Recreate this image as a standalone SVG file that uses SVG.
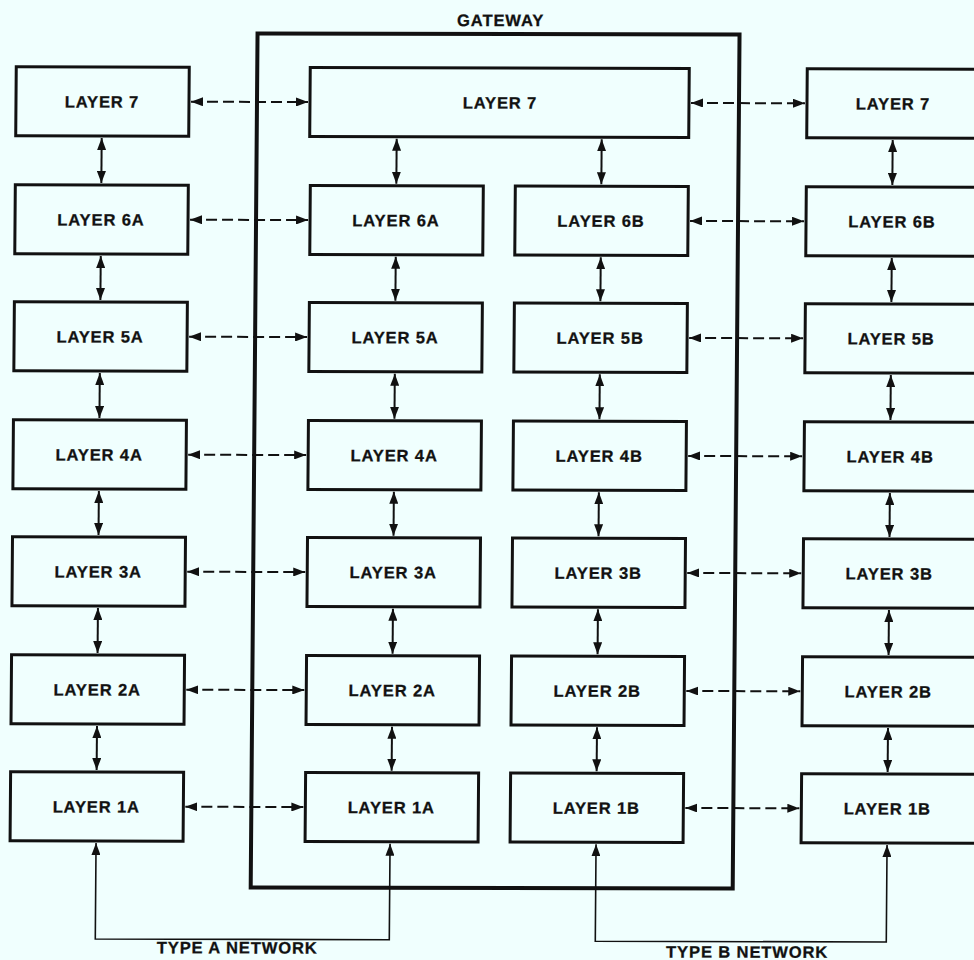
<svg xmlns="http://www.w3.org/2000/svg" width="974" height="960" viewBox="0 0 974 960">
  <style>
    .box { fill: none; stroke: #111; stroke-width: 3; }
    .frame { fill: none; stroke: #111; stroke-width: 4; }
    .lbl { font-family: "Liberation Sans", Arial, sans-serif; font-weight: bold; font-size: 16.5px; letter-spacing: 0.9px; fill: #111; stroke: #111; stroke-width: 0.3; text-anchor: middle; }
    .peer { fill: none; stroke: #111; stroke-width: 2; stroke-dasharray: 11 5; marker-start: url(#ah); marker-end: url(#ah); }
    .stack { fill: none; stroke: #111; stroke-width: 2; marker-start: url(#ah); marker-end: url(#ah); }
    .net { fill: none; stroke: #111; stroke-width: 1.6; marker-start: url(#ah); marker-end: url(#ah); }
  </style>
  <defs>
    <marker id="ah" viewBox="0 0 12 9" refX="12" refY="4.5" markerWidth="12" markerHeight="9" markerUnits="userSpaceOnUse" orient="auto-start-reverse">
      <path d="M0,0 L12,4.5 L0,9 Z" fill="#111"/>
    </marker>
  </defs>
  <rect width="974" height="960" fill="#f0fffe"/>
  <g transform="matrix(1,0.0025,-0.008,1,0.8,-0.25)">
    <!-- gateway enclosure -->
    <g id="gateway">
      <rect class="frame" x="257" y="33" width="482" height="854"/>
      <text class="lbl" x="500" y="25">GATEWAY</text>
    </g>

    <!-- end system A stack -->
    <g id="a7"><rect class="box" x="16" y="67" width="173" height="69"/><text class="lbl" x="102" y="107.5">LAYER 7</text></g>
    <g id="a6"><rect class="box" x="16" y="185" width="173" height="69"/><text class="lbl" x="102" y="225.5">LAYER 6A</text></g>
    <g id="a5"><rect class="box" x="16" y="302" width="173" height="69"/><text class="lbl" x="102" y="342.5">LAYER 5A</text></g>
    <g id="a4"><rect class="box" x="16" y="420" width="173" height="69"/><text class="lbl" x="102" y="460.5">LAYER 4A</text></g>
    <g id="a3"><rect class="box" x="16" y="537" width="173" height="69"/><text class="lbl" x="102" y="577.5">LAYER 3A</text></g>
    <g id="a2"><rect class="box" x="16" y="655" width="173" height="69"/><text class="lbl" x="102" y="695.5">LAYER 2A</text></g>
    <g id="a1"><rect class="box" x="16" y="772" width="173" height="69"/><text class="lbl" x="102" y="812.5">LAYER 1A</text></g>

    <!-- gateway stacks -->
    <g id="g7"><rect class="box" x="310" y="67" width="379" height="69"/><text class="lbl" x="500" y="107.5">LAYER 7</text></g>
    <g id="ga6"><rect class="box" x="311" y="185" width="173" height="69"/><text class="lbl" x="397" y="225.5">LAYER 6A</text></g>
    <g id="ga5"><rect class="box" x="311" y="302" width="173" height="69"/><text class="lbl" x="397" y="342.5">LAYER 5A</text></g>
    <g id="ga4"><rect class="box" x="311" y="420" width="173" height="69"/><text class="lbl" x="397" y="460.5">LAYER 4A</text></g>
    <g id="ga3"><rect class="box" x="311" y="537" width="173" height="69"/><text class="lbl" x="397" y="577.5">LAYER 3A</text></g>
    <g id="ga2"><rect class="box" x="311" y="655" width="173" height="69"/><text class="lbl" x="397" y="695.5">LAYER 2A</text></g>
    <g id="ga1"><rect class="box" x="311" y="772" width="173" height="69"/><text class="lbl" x="397" y="812.5">LAYER 1A</text></g>
    <g id="gb6"><rect class="box" x="516" y="185" width="173" height="69"/><text class="lbl" x="602" y="225.5">LAYER 6B</text></g>
    <g id="gb5"><rect class="box" x="516" y="302" width="173" height="69"/><text class="lbl" x="602" y="342.5">LAYER 5B</text></g>
    <g id="gb4"><rect class="box" x="516" y="420" width="173" height="69"/><text class="lbl" x="602" y="460.5">LAYER 4B</text></g>
    <g id="gb3"><rect class="box" x="516" y="537" width="173" height="69"/><text class="lbl" x="602" y="577.5">LAYER 3B</text></g>
    <g id="gb2"><rect class="box" x="516" y="655" width="173" height="69"/><text class="lbl" x="602" y="695.5">LAYER 2B</text></g>
    <g id="gb1"><rect class="box" x="516" y="772" width="173" height="69"/><text class="lbl" x="602" y="812.5">LAYER 1B</text></g>

    <!-- end system B stack -->
    <g id="b7"><rect class="box" x="807" y="67" width="175" height="69"/><text class="lbl" x="893" y="107.5">LAYER 7</text></g>
    <g id="b6"><rect class="box" x="807" y="185" width="175" height="69"/><text class="lbl" x="893" y="225.5">LAYER 6B</text></g>
    <g id="b5"><rect class="box" x="807" y="302" width="175" height="69"/><text class="lbl" x="893" y="342.5">LAYER 5B</text></g>
    <g id="b4"><rect class="box" x="807" y="420" width="175" height="69"/><text class="lbl" x="893" y="460.5">LAYER 4B</text></g>
    <g id="b3"><rect class="box" x="807" y="537" width="175" height="69"/><text class="lbl" x="893" y="577.5">LAYER 3B</text></g>
    <g id="b2"><rect class="box" x="807" y="655" width="175" height="69"/><text class="lbl" x="893" y="695.5">LAYER 2B</text></g>
    <g id="b1"><rect class="box" x="807" y="772" width="175" height="69"/><text class="lbl" x="893" y="812.5">LAYER 1B</text></g>

    <g id="connectors">
      <!-- peer protocol links, A side -->
      <line class="peer" x1="191" y1="101.5" x2="308" y2="101.5"/>
      <line class="peer" x1="191" y1="219.5" x2="309" y2="219.5"/>
      <line class="peer" x1="191" y1="336.5" x2="309" y2="336.5"/>
      <line class="peer" x1="191" y1="454.5" x2="309" y2="454.5"/>
      <line class="peer" x1="191" y1="571.5" x2="309" y2="571.5"/>
      <line class="peer" x1="191" y1="689.5" x2="309" y2="689.5"/>
      <line class="peer" x1="191" y1="806.5" x2="309" y2="806.5"/>
      <!-- peer protocol links, B side -->
      <line class="peer" x1="691" y1="101.5" x2="805" y2="101.5"/>
      <line class="peer" x1="691" y1="219.5" x2="805" y2="219.5"/>
      <line class="peer" x1="691" y1="336.5" x2="805" y2="336.5"/>
      <line class="peer" x1="691" y1="454.5" x2="805" y2="454.5"/>
      <line class="peer" x1="691" y1="571.5" x2="805" y2="571.5"/>
      <line class="peer" x1="691" y1="689.5" x2="805" y2="689.5"/>
      <line class="peer" x1="691" y1="806.5" x2="805" y2="806.5"/>

      <!-- layer interfaces, A end system -->
      <line class="stack" x1="102" y1="138" x2="102" y2="183"/>
      <line class="stack" x1="102" y1="256" x2="102" y2="300"/>
      <line class="stack" x1="102" y1="373" x2="102" y2="418"/>
      <line class="stack" x1="102" y1="491" x2="102" y2="535"/>
      <line class="stack" x1="102" y1="608" x2="102" y2="653"/>
      <line class="stack" x1="102" y1="726" x2="102" y2="770"/>
      <!-- layer interfaces, gateway A side -->
      <line class="stack" x1="397" y1="138" x2="397" y2="183"/>
      <line class="stack" x1="397" y1="256" x2="397" y2="300"/>
      <line class="stack" x1="397" y1="373" x2="397" y2="418"/>
      <line class="stack" x1="397" y1="491" x2="397" y2="535"/>
      <line class="stack" x1="397" y1="608" x2="397" y2="653"/>
      <line class="stack" x1="397" y1="726" x2="397" y2="770"/>
      <!-- layer interfaces, gateway B side -->
      <line class="stack" x1="602" y1="138" x2="602" y2="183"/>
      <line class="stack" x1="602" y1="256" x2="602" y2="300"/>
      <line class="stack" x1="602" y1="373" x2="602" y2="418"/>
      <line class="stack" x1="602" y1="491" x2="602" y2="535"/>
      <line class="stack" x1="602" y1="608" x2="602" y2="653"/>
      <line class="stack" x1="602" y1="726" x2="602" y2="770"/>
      <!-- layer interfaces, B end system -->
      <line class="stack" x1="893" y1="138" x2="893" y2="183"/>
      <line class="stack" x1="893" y1="256" x2="893" y2="300"/>
      <line class="stack" x1="893" y1="373" x2="893" y2="418"/>
      <line class="stack" x1="893" y1="491" x2="893" y2="535"/>
      <line class="stack" x1="893" y1="608" x2="893" y2="653"/>
      <line class="stack" x1="893" y1="726" x2="893" y2="770"/>

      <!-- physical networks -->
      <path class="net" d="M102,843 V939 H396 V843"/>
      <path class="net" d="M602,843 V940 H893 V843"/>
    </g>

    <text class="lbl" x="244" y="953">TYPE A NETWORK</text>
    <text class="lbl" x="754" y="956">TYPE B NETWORK</text>
  </g>
</svg>
